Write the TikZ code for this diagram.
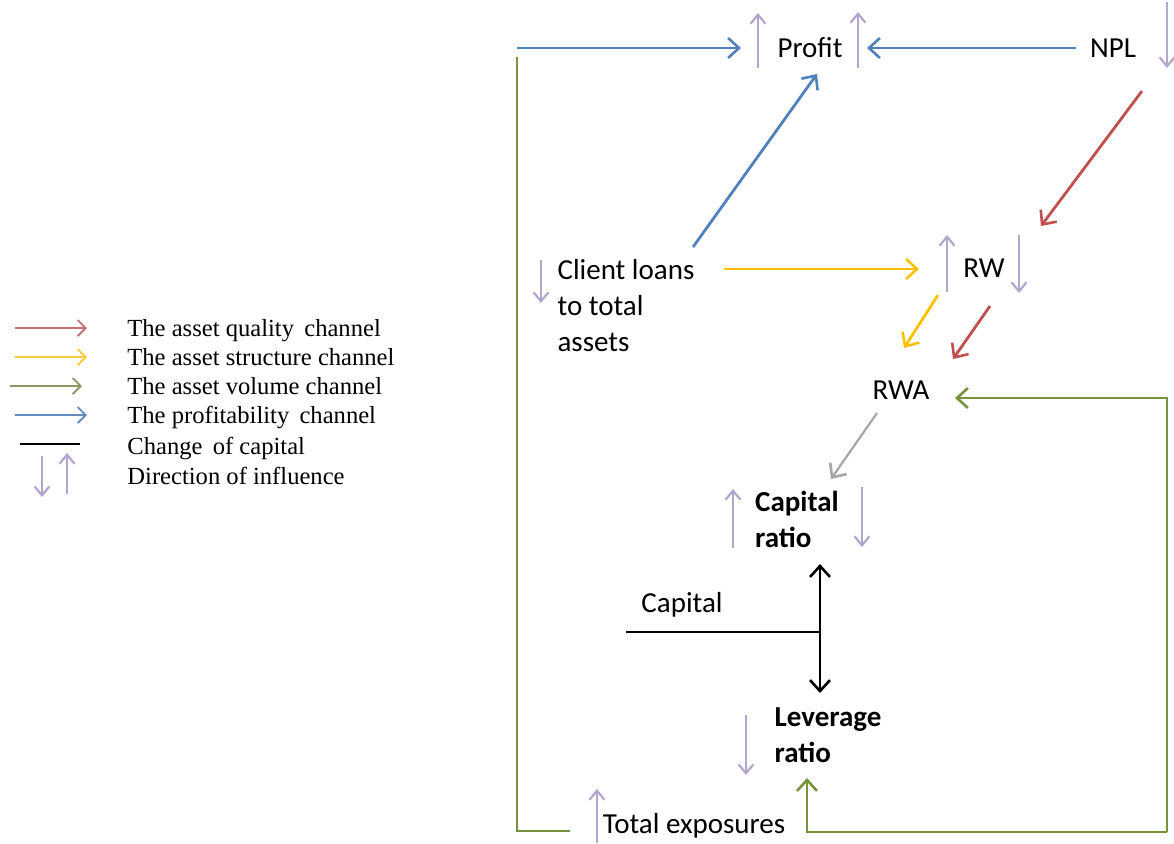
\documentclass[tikz,border=0pt]{standalone}
\usepackage{fontspec}
\setmainfont{Carlito}
\newfontfamily\legendfont{Liberation Serif}
\usetikzlibrary{arrows.meta}
\definecolor{cblue}{RGB}{79,129,189}
\definecolor{cred}{RGB}{192,80,77}
\definecolor{cyellow}{RGB}{255,192,0}
\definecolor{cgreen}{RGB}{119,147,60}
\definecolor{cgray}{RGB}{166,166,166}
\definecolor{cpurple}{RGB}{180,165,208}
\definecolor{lred}{RGB}{200,110,120}
\definecolor{lyellow}{RGB}{250,200,60}
\definecolor{lgreen}{RGB}{140,150,100}
\definecolor{lblue}{RGB}{100,140,190}
\tikzset{
  conn/.style={line width=1.4pt, -{Straight Barb[length=5.5pt,width=10pt,line width=1.3pt]}},
  plainline/.style={line width=1.4pt},
  dirarrow/.style={cpurple, line width=1.15pt, -{Straight Barb[length=4.5pt,width=7.5pt,line width=1.1pt]}},
  lbl/.style={inner sep=0pt, font=\fontsize{14.5}{18}\selectfont},
  blbl/.style={inner sep=0pt, font=\fontsize{14.5}{18}\selectfont\bfseries, align=left},
  legtext/.style={inner sep=0pt, anchor=base west, font=\legendfont\fontsize{12.3}{14}\selectfont},
  legarrow/.style={line width=0.9pt, -{Straight Barb[length=4pt,width=8pt,line width=0.9pt]}}
}
\begin{document}
\begin{tikzpicture}[x=0.5pt,y=-0.5pt]
\path[use as bounding box] (0,0) rectangle (1174,843);

% ---- Nodes ----
\node[lbl, anchor=base] (profit) at (810,57) {Profit};
\node[lbl, anchor=base] (npl) at (1113,57) {NPL};
\node[lbl, align=left] (loans) at (626,306) {Client loans\\to total\\assets};
\node[lbl, anchor=base] (rw) at (984,277) {RW};
\node[lbl, anchor=base] (rwa) at (901,399) {RWA};
\node[blbl] (capratio) at (797,519) {Capital\\ratio};
\node[lbl, anchor=base] (capital) at (682,612) {Capital};
\node[blbl] (levratio) at (828,735) {Leverage\\ratio};
\node[lbl, anchor=base] (totexp) at (694,833) {Total exposures};

% ---- Coordinates for connector ends ----
\coordinate (blueL) at (517,48);
\coordinate (profitW) at (741,48);
\coordinate (profitE) at (867,48);
\coordinate (nplW) at (1076,48);
\coordinate (loansNE) at (693,247);
\coordinate (profitS) at (817,74);
\coordinate (nplS) at (1142,91);
\coordinate (rwNE) at (1041,226);
\coordinate (loansE) at (724,269);
\coordinate (rwW) at (919,269);
\coordinate (rwSW) at (938,295);
\coordinate (rwaNW) at (904,348);
\coordinate (rwS) at (990,306);
\coordinate (rwaNE) at (953,359);
\coordinate (rwaS) at (877,413);
\coordinate (crN) at (831,479);
\coordinate (rwaE) at (955,398);
\coordinate (corner) at (1167,832);
\coordinate (lrS) at (807,778);
\coordinate (teW) at (570,831);
\coordinate (greenTop) at (517,57);
\coordinate (junction) at (820,632);
\coordinate (capW) at (626,632);
\coordinate (crS) at (820,564);
\coordinate (lrN) at (820,693);

% ---- Profitability channel (blue) ----
\draw[conn, cblue] (blueL) -- (profitW);
\draw[conn, cblue] (nplW) -- (profitE);
\draw[conn, cblue] (loansNE) -- (profitS);

% ---- Asset quality channel (red) ----
\draw[conn, cred] (nplS) -- (rwNE);
\draw[conn, cred] (rwS) -- (rwaNE);

% ---- Asset structure channel (yellow) ----
\draw[conn, cyellow] (loansE) -- (rwW);
\draw[conn, cyellow] (rwSW) -- (rwaNW);

% ---- RWA to capital ratio (gray) ----
\draw[conn, cgray, line width=1.1pt] (rwaS) -- (crN);

% ---- Asset volume channel (green) ----
\draw[plainline, cgreen] (teW) -| (greenTop);
\draw[conn, cgreen] (corner) |- (rwaE);
\draw[conn, cgreen] (corner) -| (lrS);

% ---- Change of capital (black) ----
\draw[plainline, black] (capW) -- (junction);
\draw[plainline, black, {Straight Barb[length=5.5pt,width=10pt,line width=1.3pt]}-{Straight Barb[length=5.5pt,width=10pt,line width=1.3pt]}] (lrN) -- (crS);

% ---- Direction of influence (purple) ----
\draw[dirarrow] (758,68) -- (758,13);
\draw[dirarrow] (858,68) -- (858,12);
\draw[dirarrow] (1167,2) -- (1167,68);
\draw[dirarrow] (541,260) -- (541,303);
\draw[dirarrow] (947,292) -- (947,235);
\draw[dirarrow] (1019,235) -- (1019,293);
\draw[dirarrow] (733,548) -- (733,489);
\draw[dirarrow] (862,487) -- (862,547);
\draw[dirarrow] (746,715) -- (746,775);
\draw[dirarrow] (597,843) -- (597,789);

% ---- Legend ----
\draw[legarrow, lred] (15,328) -- (87,328);
\draw[legarrow, lyellow] (15,357) -- (87,357);
\draw[legarrow, lgreen] (10,386) -- (82,386);
\draw[legarrow, lblue] (15,415) -- (87,415);
\draw[line width=1.4pt, black] (20,444) -- (80,444);
\draw[dirarrow] (42,456) -- (42,497);
\draw[dirarrow] (67,494) -- (67,453);
\node[legtext] (l1) at (127,336) {The asset quality\, channel};
\node[legtext] (l2) at (127,365) {The asset structure channel};
\node[legtext] (l3) at (127,394) {The asset volume channel};
\node[legtext] (l4) at (127,423) {The profitability\, channel};
\node[legtext] (l5) at (127,454) {Change\, of capital};
\node[legtext] (l6) at (127,484) {Direction of influence};
\end{tikzpicture}
\end{document}
